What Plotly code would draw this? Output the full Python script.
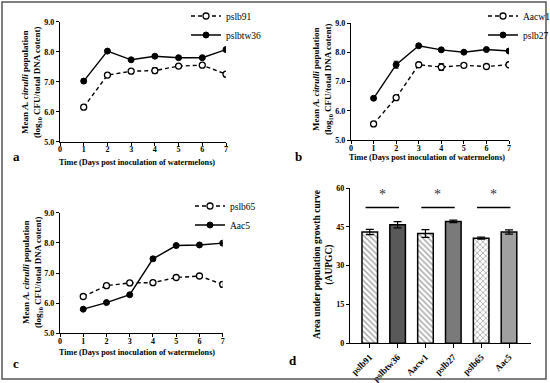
import plotly.graph_objects as go

# ---------------- data ----------------
days = [1, 2, 3, 4, 5, 6, 7]

a_pslb91 = [6.15, 7.22, 7.35, 7.37, 7.52, 7.55, 7.25]
a_pslb91_err = [0.03, 0.04, 0.03, 0.10, 0.03, 0.03, 0.04]
a_pslbtw36 = [7.02, 8.02, 7.73, 7.85, 7.80, 7.80, 8.07]
a_pslbtw36_err = [0.07, 0.02, 0.03, 0.03, 0.02, 0.02, 0.02]

b_aacw1 = [5.55, 6.45, 7.58, 7.50, 7.56, 7.52, 7.58]
b_aacw1_err = [0.03, 0.07, 0.03, 0.12, 0.03, 0.03, 0.03]
b_pslb27 = [6.43, 7.58, 8.23, 8.09, 8.01, 8.10, 8.05]
b_pslb27_err = [0.02, 0.12, 0.02, 0.02, 0.02, 0.03, 0.02]

c_pslb65 = [6.22, 6.58, 6.67, 6.68, 6.85, 6.90, 6.62]
c_pslb65_err = [0.03, 0.03, 0.03, 0.03, 0.03, 0.03, 0.08]
c_aac5 = [5.80, 6.02, 6.28, 7.47, 7.91, 7.93, 7.99]
c_aac5_err = [0.02, 0.04, 0.03, 0.06, 0.02, 0.02, 0.02]

strains = ["pslb91", "pslbtw36", "Aacw1", "pslb27", "pslb65", "Aac5"]
aupgc = [43.0, 45.8, 42.4, 47.1, 40.6, 43.0]
aupgc_err = [1.0, 1.2, 1.5, 0.5, 0.4, 0.8]
sig_pairs = [(0, 1), (2, 3), (4, 5)]
sig_level = 52.5

line_ticks = [0, 1, 2, 3, 4, 5, 6, 7]
y_ticks_line = [5.0, 6.0, 7.0, 8.0, 9.0]
y_ticks_bar = [0, 15, 30, 45, 60]

# ---------------- style ----------------
W, H = 550, 383
SERIF = "Liberation Serif"

def px(x):
    return x / W

def py(y):
    return (H - y) / H

fig = go.Figure()

def add_pair(xa, ya, open_name, open_y, open_err, fill_name, fill_y, fill_err, legend):
    fig.add_trace(go.Scatter(
        x=days, y=open_y, name=open_name, mode="lines+markers",
        xaxis=xa, yaxis=ya, legend=legend,
        line=dict(color="black", width=1.4, dash="4px,3px"),
        marker=dict(symbol="circle", size=6, color="white",
                    line=dict(color="black", width=1.3)),
        error_y=dict(type="data", array=open_err, color="black", thickness=1, width=2.5),
    ))
    fig.add_trace(go.Scatter(
        x=days, y=fill_y, name=fill_name, mode="lines+markers",
        xaxis=xa, yaxis=ya, legend=legend,
        line=dict(color="black", width=1.4),
        marker=dict(symbol="circle", size=6, color="black",
                    line=dict(color="black", width=1)),
        error_y=dict(type="data", array=fill_err, color="black", thickness=1, width=2.5),
    ))

add_pair("x", "y", "pslb91", a_pslb91, a_pslb91_err, "pslbtw36", a_pslbtw36, a_pslbtw36_err, "legend")
add_pair("x2", "y2", "Aacw1", b_aacw1, b_aacw1_err, "pslb27", b_pslb27, b_pslb27_err, "legend2")
add_pair("x3", "y3", "pslb65", c_pslb65, c_pslb65_err, "Aac5", c_aac5, c_aac5_err, "legend3")

bar_colors = ["white", "#595959", "white", "#7a7a7a", "white", "#a0a0a0"]
bar_patterns = ["\\", "", "\\", "", "x", ""]
fig.add_trace(go.Bar(
    x=strains, y=aupgc, xaxis="x4", yaxis="y4", showlegend=False,
    width=0.56,
    marker=dict(color=bar_colors, line=dict(color="black", width=1.5),
                pattern=dict(shape=bar_patterns, fgcolor="#8a8a8a", bgcolor="white",
                             size=4, solidity=0.35)),
    error_y=dict(type="data", array=aupgc_err, color="black", thickness=1.2, width=4),
))

tick_font = dict(family=SERIF, size=8, color="black")
common_axis = dict(showline=True, linecolor="black", linewidth=1.3, ticks="outside",
                   ticklen=3, tickwidth=1.2, tickcolor="black", showgrid=False,
                   zeroline=False, tickfont=tick_font)

def xline(dom):
    return dict(domain=dom, range=[0, 7], tickvals=line_ticks, ticklabelstandoff=-3,
                ticktext=[f"<b>{t}</b>" for t in line_ticks], **common_axis)

def yline(dom, anchor):
    return dict(domain=dom, range=[5, 9], tickvals=y_ticks_line,
                ticktext=[f"<b>{t:.1f}</b>" for t in y_ticks_line], anchor=anchor, **common_axis)

fig.update_layout(
    width=W, height=H, margin=dict(l=0, r=0, t=0, b=0, autoexpand=False),
    paper_bgcolor="white", plot_bgcolor="white",
    font=dict(family=SERIF, color="black"),
    xaxis=dict(anchor="y", **xline([px(60), px(226)])),
    yaxis=yline([py(141.7), py(21.7)], "x"),
    xaxis2=dict(anchor="y2", **xline([px(351), px(509)])),
    yaxis2=yline([py(140), py(23.3)], "x2"),
    xaxis3=dict(anchor="y3", **xline([px(60), px(222.7)])),
    yaxis3=yline([py(333.3), py(212.7)], "x3"),
    xaxis4=dict(domain=[px(350), px(531)], anchor="y4", range=[-0.71, 5.79],
                tickangle=-45, tickvals=strains, ticktext=[f"<b>{s}</b>" for s in strains],
                **{**common_axis, "tickfont": dict(family=SERIF, size=9, color="black"),
                   "ticklen": 4}),
    yaxis4=dict(domain=[py(343.3), py(188)], anchor="x4", range=[0, 60],
                tickvals=y_ticks_bar, ticktext=[f"<b>{t}</b>" for t in y_ticks_bar],
                **common_axis),
    bargap=0.3,
)

leg_common = dict(font=dict(family=SERIF, size=9.5, color="black"), bgcolor="rgba(0,0,0,0)",
                  xanchor="left", yanchor="top", tracegroupgap=0, itemwidth=30)
fig.update_layout(
    legend=dict(x=px(186), y=py(1.5), **leg_common),
    legend2=dict(x=px(483), y=py(1.5), **leg_common),
    legend3=dict(x=px(190), y=py(191.5), **leg_common),
)

ann = []
xt = "<b>Time (Days post inoculation of watermelons)</b>"
for x, y in [(136.7, 162), (426.7, 158), (136.7, 352.5)]:
    ann.append(dict(x=px(x), y=py(y), xref="paper", yref="paper", text=xt, showarrow=False,
                    xanchor="center", yanchor="middle",
                    font=dict(family=SERIF, size=8.2, color="black")))
yt = "<b>Mean <i>A. citrulli</i> population<br>(log<sub>10</sub> CFU/total DNA cotent)</b>"
for x, y in [(32, 82), (322, 79), (32, 272)]:
    ann.append(dict(x=px(x), y=py(y), xref="paper", yref="paper", text=yt, showarrow=False,
                    xanchor="center", yanchor="middle",
                    textangle=-90, font=dict(family=SERIF, size=9, color="black")))
ann.append(dict(x=px(323), y=py(265), xref="paper", yref="paper",
                text="<b>Area under population growth curve<br>(AUPGC)</b>", showarrow=False,
                xanchor="center", yanchor="middle",
                textangle=-90, font=dict(family=SERIF, size=9.5, color="black")))
for t, x, y in [("a", 16, 156), ("b", 298, 156), ("c", 16, 363), ("d", 293, 360)]:
    ann.append(dict(x=px(x), y=py(y), xref="paper", yref="paper", text=f"<b>{t}</b>",
                    xanchor="center", yanchor="middle",
                    showarrow=False, font=dict(family=SERIF, size=13, color="black")))

shapes = []
for i0, i1 in sig_pairs:
    shapes.append(dict(type="line", xref="x4", yref="y4", x0=i0 - 0.15, x1=i1 + 0.05,
                       y0=sig_level, y1=sig_level, line=dict(color="black", width=1.5)))
    ann.append(dict(x=(i0 + i1) / 2 - 0.05, y=sig_level + 1.2, xref="x4", yref="y4", text="*",
                    showarrow=False, yanchor="bottom", xanchor="center",
                    font=dict(family=SERIF, size=14, color="#333")))
shapes.append(dict(type="rect", xref="paper", yref="paper", x0=px(2), x1=px(546),
                   y0=py(379), y1=py(2), line=dict(color="#555", width=1.5)))

fig.update_layout(annotations=ann, shapes=shapes)
fig.write_html("out.html", config={"displayModeBar": False},
               post_script="document.body.style.margin='0';document.body.style.overflow='hidden';")
